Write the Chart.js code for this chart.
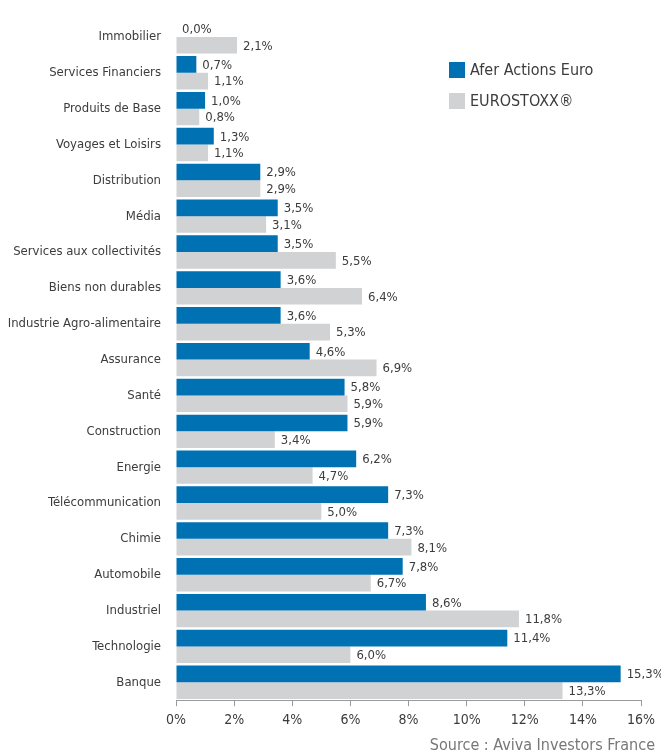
<!DOCTYPE html>
<html>
<head>
<meta charset="utf-8">
<script src="https://cdn.jsdelivr.net/npm/chart.js@4"></script>
<style>
  html, body { margin: 0; padding: 0; background: #fff; }
  #wrap { width: 661px; height: 753px; }
</style>
</head>
<body>
<div id="wrap"><canvas id="sectorChart"></canvas></div>
<script>
// Data
const sectors = ['Immobilier', 'Services Financiers', 'Produits de Base', 'Voyages et Loisirs', 'Distribution',
    'Média', 'Services aux collectivités', 'Biens non durables', 'Industrie Agro-alimentaire', 'Assurance',
    'Santé', 'Construction', 'Energie', 'Télécommunication', 'Chimie', 'Automobile', 'Industriel',
    'Technologie', 'Banque'];
const aferValues = [0.0, 0.7, 1.0, 1.3, 2.9, 3.5, 3.5, 3.6, 3.6, 4.6, 5.8, 5.9, 6.2, 7.3, 7.3, 7.8, 8.6, 11.4, 15.3];
const stoxxValues = [2.1, 1.1, 0.8, 1.1, 2.9, 3.1, 5.5, 6.4, 5.3, 6.9, 5.9, 3.4, 4.7, 5.0, 8.1, 6.7, 11.8, 6.0, 13.3];
const seriesNames = ['Afer Actions Euro', 'EUROSTOXX®'];
const sourceText = 'Source : Aviva Investors France';

const FONT = "'Liberation Sans Narrow', 'DejaVu Sans Condensed', sans-serif";
const TEXT = '#3c3c3c';

function fmt(v) {
    return v.toFixed(1).replace('.', ',') + '%';
}

// value labels at the end of each bar
const valueLabels = {
    id: 'valueLabels',
    afterDatasetsDraw(chart) {
        const ctx = chart.ctx;
        ctx.save();
        ctx.font = '13px ' + FONT;
        ctx.fillStyle = TEXT;
        ctx.textBaseline = 'middle';
        ctx.textAlign = 'left';
        chart.data.datasets.forEach((ds, i) => {
            chart.getDatasetMeta(i).data.forEach((bar, j) => {
                ctx.fillText(fmt(ds.data[j]), bar.x + 6, bar.y + 1);
            });
        });
        ctx.restore();
    }
};

// legend inside the chart area (top right) + source line at the bottom
const extras = {
    id: 'extras',
    afterDraw(chart) {
        const ctx = chart.ctx;
        ctx.save();
        ctx.font = '16px ' + FONT;
        ctx.textBaseline = 'middle';
        chart.data.datasets.forEach((ds, i) => {
            const y = 70 + i * 31;
            ctx.fillStyle = ds.backgroundColor;
            ctx.fillRect(449, y - 8, 16, 16);
            ctx.fillStyle = TEXT;
            ctx.fillText(ds.label, 470, y + 1);
        });
        ctx.font = '16px ' + FONT;
        ctx.fillStyle = '#777';
        ctx.textAlign = 'right';
        ctx.fillText(sourceText, 655, 746);
        ctx.restore();
    }
};

new Chart(document.getElementById('sectorChart'), {
    type: 'bar',
    data: {
        labels: sectors,
        datasets: [
            {
                label: seriesNames[0],
                data: aferValues,
                backgroundColor: '#0071b3',
                barPercentage: 1.0,
                categoryPercentage: 0.93
            },
            {
                label: seriesNames[1],
                data: stoxxValues,
                backgroundColor: '#d1d2d4',
                barPercentage: 1.0,
                categoryPercentage: 0.93
            }
        ]
    },
    options: {
        indexAxis: 'y',
        responsive: true,
        maintainAspectRatio: false,
        animation: false,
        layout: { padding: { top: 19, right: 20, left: 0, bottom: 18 } },
        plugins: {
            legend: { display: false },
            tooltip: { enabled: false }
        },
        scales: {
            x: {
                min: 0,
                max: 16,
                ticks: {
                    stepSize: 2,
                    color: TEXT,
                    font: { family: FONT, size: 14 },
                    padding: 6,
                    callback: v => v + '%'
                },
                grid: { drawOnChartArea: false, drawTicks: true, tickLength: 6, color: '#9a9a9a' },
                border: { display: true, color: '#9a9a9a' }
            },
            y: {
                ticks: {
                    color: TEXT,
                    font: { family: FONT, size: 13 },
                    padding: 15
                },
                grid: { display: false, drawTicks: false },
                border: { display: false },
                afterFit(scale) {
                    scale.width = 176;
                    scale.paddingTop = 0;
                    scale.paddingBottom = 0;
                }
            }
        }
    },
    plugins: [valueLabels, extras]
});
</script>
</body>
</html>
